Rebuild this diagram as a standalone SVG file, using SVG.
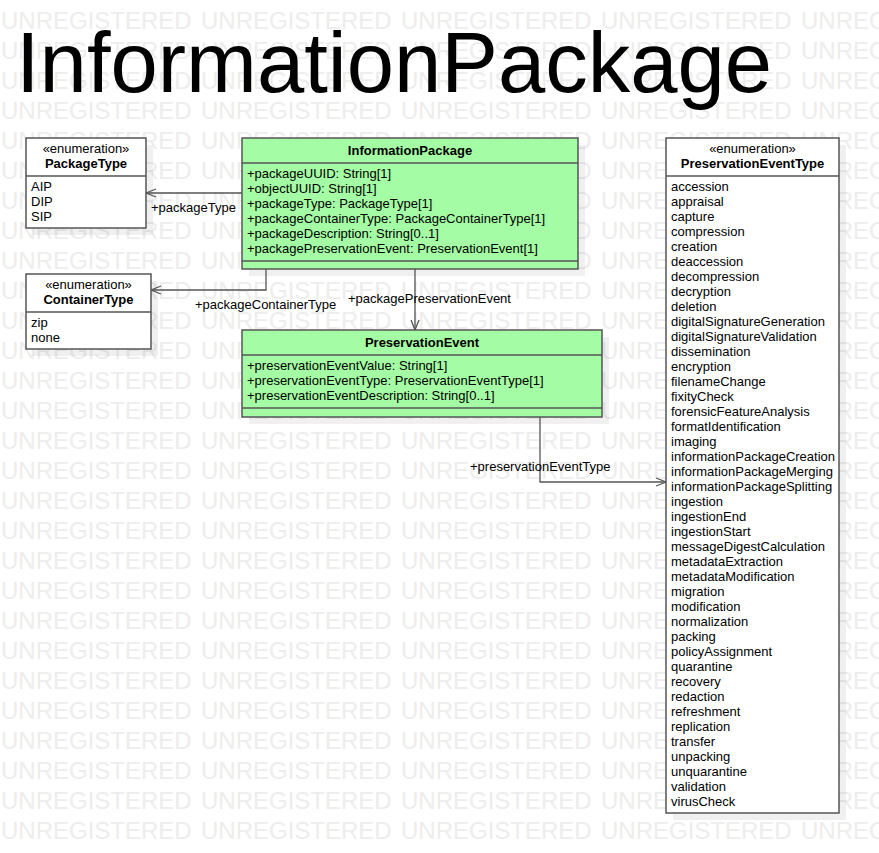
<svg xmlns="http://www.w3.org/2000/svg" xmlns:xlink="http://www.w3.org/1999/xlink" width="879" height="853" viewBox="0 0 879 853">
<style>
text{font-family:"Liberation Sans",Arial,sans-serif;fill:#000}
.wm{font-size:24px;fill:#ededed}
.title{font-size:85px}
.t{font-size:13px}
.b{font-size:13px;font-weight:bold}
.box{fill:#fff;stroke:#555;stroke-width:1.5}
.cls{fill:#a4fca4;stroke:#555;stroke-width:1.5}
.sep{stroke:#555;stroke-width:1.5}
.sh{fill:#000;fill-opacity:0.06}
.conn{fill:none;stroke:#555;stroke-width:1.3}
</style>
<defs>
<marker id="arr" viewBox="0 0 12 12" refX="11" refY="6" markerWidth="12" markerHeight="12" markerUnits="userSpaceOnUse" orient="auto">
<path d="M1,2 L11,6 L1,10" fill="none" stroke="#555" stroke-width="1.3"/>
</marker>
<g id="row">
<text class="wm" x="1" y="29">UNREGISTERED</text>
<text class="wm" x="201" y="29">UNREGISTERED</text>
<text class="wm" x="401" y="29">UNREGISTERED</text>
<text class="wm" x="601" y="29">UNREGISTERED</text>
<text class="wm" x="801" y="29">UNREGISTERED</text>
</g>
</defs>
<rect width="879" height="853" fill="#fff"/>
<g id="watermark">
<use xlink:href="#row" y="0"/><use xlink:href="#row" y="30"/><use xlink:href="#row" y="60"/><use xlink:href="#row" y="90"/>
<use xlink:href="#row" y="120"/><use xlink:href="#row" y="150"/><use xlink:href="#row" y="180"/><use xlink:href="#row" y="210"/>
<use xlink:href="#row" y="240"/><use xlink:href="#row" y="270"/><use xlink:href="#row" y="300"/><use xlink:href="#row" y="330"/>
<use xlink:href="#row" y="360"/><use xlink:href="#row" y="390"/><use xlink:href="#row" y="420"/><use xlink:href="#row" y="450"/>
<use xlink:href="#row" y="480"/><use xlink:href="#row" y="510"/><use xlink:href="#row" y="540"/><use xlink:href="#row" y="570"/>
<use xlink:href="#row" y="600"/><use xlink:href="#row" y="630"/><use xlink:href="#row" y="660"/><use xlink:href="#row" y="690"/>
<use xlink:href="#row" y="720"/><use xlink:href="#row" y="750"/><use xlink:href="#row" y="780"/><use xlink:href="#row" y="810"/>
</g>
<text class="title" x="16" y="92">InformationPackage</text>

<g id="shadows">
<rect class="sh" x="33" y="145" width="120" height="90"/>
<rect class="sh" x="33" y="281" width="125" height="75"/>
<rect class="sh" x="249" y="145" width="336" height="131"/>
<rect class="sh" x="249" y="337" width="360" height="87"/>
<rect class="sh" x="673" y="145" width="173" height="675"/>
</g>

<g id="connectors">
<path class="conn" d="M242,193 H146" marker-end="url(#arr)"/>
<text class="t" x="151" y="212">+packageType</text>
<path class="conn" d="M266,269 V290 H151" marker-end="url(#arr)"/>
<text class="t" x="195" y="309">+packageContainerType</text>
<path class="conn" d="M415,269 V330" marker-end="url(#arr)"/>
<text class="t" x="348" y="303">+packagePreservationEvent</text>
<path class="conn" d="M540,417 V482 H666" marker-end="url(#arr)"/>
<text class="t" x="470" y="471">+preservationEventType</text>
</g>

<g id="PackageType">
<rect class="box" x="26" y="138" width="120" height="90"/>
<line class="sep" x1="26" y1="176" x2="146" y2="176"/>
<text class="t" x="86" y="153" text-anchor="middle">«enumeration»</text>
<text class="b" x="86" y="168" text-anchor="middle">PackageType</text>
<text class="t" x="31" y="191">AIP</text>
<text class="t" x="31" y="206">DIP</text>
<text class="t" x="31" y="221">SIP</text>
</g>

<g id="ContainerType">
<rect class="box" x="26" y="274" width="125" height="75"/>
<line class="sep" x1="26" y1="312" x2="151" y2="312"/>
<text class="t" x="88.5" y="289" text-anchor="middle">«enumeration»</text>
<text class="b" x="88.5" y="304" text-anchor="middle">ContainerType</text>
<text class="t" x="31" y="327">zip</text>
<text class="t" x="31" y="342">none</text>
</g>

<g id="InformationPackage">
<rect class="cls" x="242" y="138" width="336" height="131"/>
<line class="sep" x1="242" y1="163" x2="578" y2="163"/>
<line class="sep" x1="242" y1="261" x2="578" y2="261"/>
<text class="b" x="410" y="155" text-anchor="middle">InformationPackage</text>
<text class="t" x="247" y="178">+packageUUID: String[1]</text>
<text class="t" x="247" y="193">+objectUUID: String[1]</text>
<text class="t" x="247" y="208">+packageType: PackageType[1]</text>
<text class="t" x="247" y="223">+packageContainerType: PackageContainerType[1]</text>
<text class="t" x="247" y="238">+packageDescription: String[0..1]</text>
<text class="t" x="247" y="253">+packagePreservationEvent: PreservationEvent[1]</text>
</g>

<g id="PreservationEvent">
<rect class="cls" x="242" y="330" width="360" height="87"/>
<line class="sep" x1="242" y1="355" x2="602" y2="355"/>
<line class="sep" x1="242" y1="408" x2="602" y2="408"/>
<text class="b" x="422" y="347" text-anchor="middle">PreservationEvent</text>
<text class="t" x="247" y="370">+preservationEventValue: String[1]</text>
<text class="t" x="247" y="385">+preservationEventType: PreservationEventType[1]</text>
<text class="t" x="247" y="400">+preservationEventDescription: String[0..1]</text>
</g>

<g id="PreservationEventType">
<rect class="box" x="666" y="138" width="173" height="675"/>
<line class="sep" x1="666" y1="176" x2="839" y2="176"/>
<text class="t" x="752.5" y="153" text-anchor="middle">«enumeration»</text>
<text class="b" x="752.5" y="168" text-anchor="middle">PreservationEventType</text>
<text class="t" x="671" y="191">accession</text>
<text class="t" x="671" y="206">appraisal</text>
<text class="t" x="671" y="221">capture</text>
<text class="t" x="671" y="236">compression</text>
<text class="t" x="671" y="251">creation</text>
<text class="t" x="671" y="266">deaccession</text>
<text class="t" x="671" y="281">decompression</text>
<text class="t" x="671" y="296">decryption</text>
<text class="t" x="671" y="311">deletion</text>
<text class="t" x="671" y="326">digitalSignatureGeneration</text>
<text class="t" x="671" y="341">digitalSignatureValidation</text>
<text class="t" x="671" y="356">dissemination</text>
<text class="t" x="671" y="371">encryption</text>
<text class="t" x="671" y="386">filenameChange</text>
<text class="t" x="671" y="401">fixityCheck</text>
<text class="t" x="671" y="416">forensicFeatureAnalysis</text>
<text class="t" x="671" y="431">formatIdentification</text>
<text class="t" x="671" y="446">imaging</text>
<text class="t" x="671" y="461">informationPackageCreation</text>
<text class="t" x="671" y="476">informationPackageMerging</text>
<text class="t" x="671" y="491">informationPackageSplitting</text>
<text class="t" x="671" y="506">ingestion</text>
<text class="t" x="671" y="521">ingestionEnd</text>
<text class="t" x="671" y="536">ingestionStart</text>
<text class="t" x="671" y="551">messageDigestCalculation</text>
<text class="t" x="671" y="566">metadataExtraction</text>
<text class="t" x="671" y="581">metadataModification</text>
<text class="t" x="671" y="596">migration</text>
<text class="t" x="671" y="611">modification</text>
<text class="t" x="671" y="626">normalization</text>
<text class="t" x="671" y="641">packing</text>
<text class="t" x="671" y="656">policyAssignment</text>
<text class="t" x="671" y="671">quarantine</text>
<text class="t" x="671" y="686">recovery</text>
<text class="t" x="671" y="701">redaction</text>
<text class="t" x="671" y="716">refreshment</text>
<text class="t" x="671" y="731">replication</text>
<text class="t" x="671" y="746">transfer</text>
<text class="t" x="671" y="761">unpacking</text>
<text class="t" x="671" y="776">unquarantine</text>
<text class="t" x="671" y="791">validation</text>
<text class="t" x="671" y="806">virusCheck</text>
</g>
</svg>
